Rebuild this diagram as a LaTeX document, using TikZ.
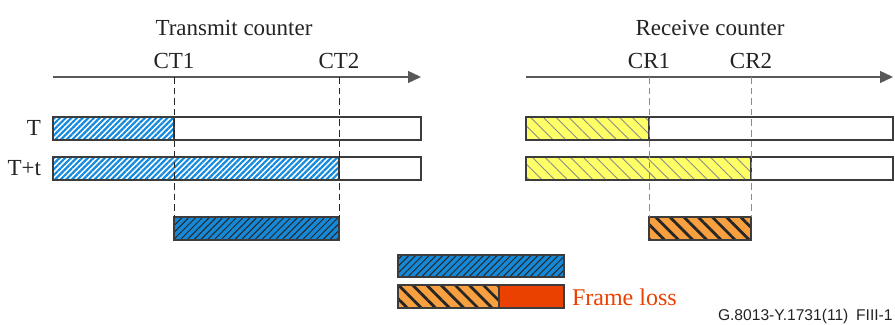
\documentclass[tikz,border=0pt]{standalone}
\usepackage{fontspec}
\setmainfont{Liberation Serif}
\setsansfont{Liberation Sans}
\usetikzlibrary{positioning, arrows.meta, patterns.meta}
\definecolor{txblue}{RGB}{20,138,222}
\definecolor{lossblue}{RGB}{22,136,216}
\definecolor{rxyellow}{RGB}{255,255,102}
\definecolor{lossorange}{RGB}{248,160,64}
\definecolor{lossred}{RGB}{234,64,0}
\definecolor{barline}{RGB}{60,60,60}
\definecolor{txtgray}{RGB}{35,35,35}
\tikzstyle{axis}=[draw=black!65, line width=0.65pt, -{Triangle[length=6.5pt,width=6pt]}]
\tikzstyle{tick}=[dashed, dash pattern=on 3.3pt off 2pt, line width=0.5pt]
\tikzstyle{bar}=[draw=barline, line width=0.8pt]
\tikzstyle{txhatch}=[pattern={Lines[angle=45,distance=2pt,line width=1.1pt]}, pattern color=txblue]
\tikzstyle{rxhatch}=[preaction={fill=rxyellow}, pattern={Lines[angle=-45,distance=4.5pt,line width=0.45pt]}, pattern color=black!45]
\tikzstyle{bluehatch}=[preaction={fill=lossblue}, pattern={Lines[angle=45,distance=2.4pt,line width=0.5pt]}, pattern color=black!85]
\tikzstyle{orangehatch}=[preaction={fill=lossorange}, pattern={Lines[angle=-45,distance=5pt,line width=1.4pt]}, pattern color=black!85]

\begin{document}
\begin{tikzpicture}[x=0.5pt, y=-0.5pt, font=\fontsize{11.5}{14}\selectfont, text=txtgray]
	\useasboundingbox (0,0) rectangle (895,325);
	% transmit side
	\node (tx) at (234,28) {Transmit counter};
	\coordinate (ta) at (53,77);
	\coordinate (tb) at (421,77);
	\draw[axis] (ta) -- (tb);
	\coordinate (ct1) at (174,77);
	\coordinate (ct2) at (339,77);
	\node[above=0.5pt of ct1] (ct1l) {CT1};
	\node[above=0.5pt of ct2] (ct2l) {CT2};
	\node[anchor=east] (t) at (48,128) {T};
	\node[anchor=east] (tt) at (48,168) {T+t};
	\path[txhatch] (53,117) rectangle (174,140);
	\draw[bar] (53,117) rectangle (421,140) (174,117) -- (174,140);
	\path[txhatch] (53,157) rectangle (339,180);
	\draw[bar] (53,157) rectangle (421,180) (339,157) -- (339,180);
	\path[bluehatch] (174,217) rectangle (339,240);
	\draw[bar] (174,217) rectangle (339,240);
	\coordinate (ct1b) at (174,217);
	\coordinate (ct2b) at (339,217);
	\draw[tick, black!85] (ct1) -- (ct1b);
	\draw[tick, black!85] (ct2) -- (ct2b);
	% receive side
	\node (rx) at (710,28) {Receive counter};
	\coordinate (ra) at (526,77);
	\coordinate (rb) at (893,77);
	\draw[axis] (ra) -- (rb);
	\coordinate (cr1) at (649,77);
	\coordinate (cr2) at (751,77);
	\node[above=0.5pt of cr1] (cr1l) {CR1};
	\node[above=0.5pt of cr2] (cr2l) {CR2};
	\path[rxhatch] (526,117) rectangle (649,140);
	\draw[bar] (526,117) rectangle (893,140) (649,117) -- (649,140);
	\path[rxhatch] (526,157) rectangle (751,180);
	\draw[bar] (526,157) rectangle (893,180) (751,157) -- (751,180);
	\path[orangehatch] (649,217) rectangle (751,240);
	\draw[bar] (649,217) rectangle (751,240);
	\coordinate (cr1b) at (649,217);
	\coordinate (cr2b) at (751,217);
	\draw[tick, black!45] (cr1) -- (cr1b);
	\draw[tick, black!45] (cr2) -- (cr2b);
	% comparison
	\path[bluehatch] (398,255) rectangle (564,277);
	\draw[bar] (398,255) rectangle (564,277);
	\path[orangehatch] (398,285) rectangle (499,308);
	\fill[lossred] (499,285) rectangle (564,308);
	\draw[bar] (398,285) rectangle (564,308) (499,285) -- (499,308);
	\coordinate (lossend) at (564,297);
	\node[right=0.5pt of lossend, text=lossred, font=\fontsize{12}{14}\selectfont] (loss) {Frame loss};
	\node[anchor=east, inner sep=0pt, font=\sffamily\fontsize{7.8}{9}\selectfont] (id) at (893,316) {G.8013-Y.1731(11)\enspace FIII-1};
\end{tikzpicture}
\end{document}
